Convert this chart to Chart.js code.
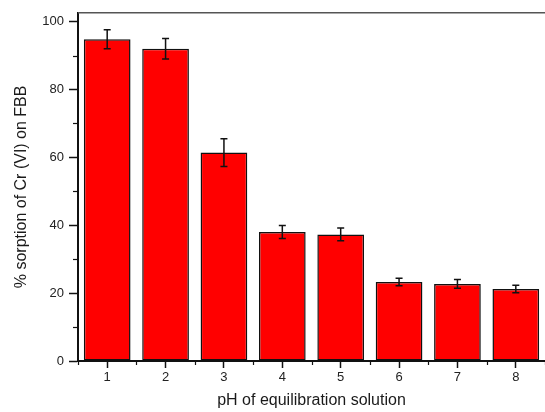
<!DOCTYPE html>
<html lang="en">
<head>
  <meta charset="UTF-8">
  <title>% sorption of Cr (VI) vs pH</title>
  <script src="https://cdn.jsdelivr.net/npm/chart.js"></script>
  <style>
    html, body { margin: 0; padding: 0; background: #fff; }
    .wrap { position: relative; width: 545px; height: 412px; }
  </style>
</head>
<body>
  <div class="wrap">
    <canvas id="sorptionChart"></canvas>
  </div>

  <script>
    // data
    const phLabels = ['1', '2', '3', '4', '5', '6', '7', '8'];
    const sorption = [94.8, 92.0, 61.4, 38.0, 37.3, 23.3, 22.7, 21.2];
    const sorptionErr = [2.8, 3.0, 4.1, 1.9, 1.9, 1.1, 1.3, 1.1];
    const yTicks = [0, 20, 40, 60, 80, 100];
    const yMinorTicks = [10, 30, 50, 70, 90];

    const FONT = "'Liberation Sans', Arial, sans-serif";

    // error bars, minor ticks and the top frame line
    const extrasPlugin = {
      id: 'extras',
      afterDatasetsDraw(chart) {
        const { ctx, scales: { y } } = chart;
        const meta = chart.getDatasetMeta(0);
        ctx.save();

        // error bars
        ctx.strokeStyle = '#111';
        ctx.lineWidth = 1.5;
        meta.data.forEach((bar, i) => {
          const yTop = y.getPixelForValue(sorption[i] + sorptionErr[i]);
          const yBot = y.getPixelForValue(sorption[i] - sorptionErr[i]);
          ctx.beginPath();
          ctx.moveTo(bar.x, yTop); ctx.lineTo(bar.x, yBot);
          ctx.moveTo(bar.x - 3.5, yTop); ctx.lineTo(bar.x + 3.5, yTop);
          ctx.moveTo(bar.x - 3.5, yBot); ctx.lineTo(bar.x + 3.5, yBot);
          ctx.stroke();
        });
        ctx.restore();
      },
      afterDraw(chart) {
        const { ctx, chartArea, scales: { x, y } } = chart;
        ctx.save();
        ctx.strokeStyle = '#111';
        ctx.lineWidth = 1.2;

        // minor y ticks
        yMinorTicks.forEach(v => {
          const py = Math.round(y.getPixelForValue(v)) + 0.5;
          ctx.beginPath();
          ctx.moveTo(chartArea.left - 5, py); ctx.lineTo(chartArea.left, py);
          ctx.stroke();
        });

        // minor x ticks at category boundaries
        const bounds = [x.left];
        for (let i = 0; i < phLabels.length - 1; i++) {
          bounds.push((x.getPixelForValue(i) + x.getPixelForValue(i + 1)) / 2);
        }
        bounds.push(x.right);
        bounds.forEach(px => {
          px = Math.round(px) + 0.5;
          ctx.beginPath();
          ctx.moveTo(px, chartArea.bottom); ctx.lineTo(px, chartArea.bottom + 4);
          ctx.stroke();
        });

        // top frame line
        ctx.strokeStyle = '#555';
        ctx.lineWidth = 1.6;
        ctx.beginPath();
        ctx.moveTo(chartArea.left, chartArea.top);
        ctx.lineTo(chartArea.right, chartArea.top);
        ctx.stroke();
        ctx.restore();
      }
    };

    new Chart(document.getElementById('sorptionChart'), {
      type: 'bar',
      data: {
        labels: phLabels,
        datasets: [{
          data: sorption,
          backgroundColor: '#ff0000',
          borderColor: '#111',
          borderWidth: 1.5,
          borderSkipped: false,
          categoryPercentage: 1,
          barPercentage: 0.8
        }]
      },
      options: {
        responsive: true,
        maintainAspectRatio: false,
        animation: false,
        layout: { padding: { top: 11, right: 0, left: 0, bottom: 0 } },
        plugins: { legend: { display: false }, tooltip: { enabled: false } },
        scales: {
          x: {
            type: 'category',
            offset: true,
            afterFit: s => { s.height = 51; },
            grid: { offset: false, drawOnChartArea: false, tickLength: 7, tickColor: '#111', tickWidth: 1.5 },
            border: { display: true, color: '#111', width: 2 },
            ticks: { color: '#222', padding: 2, font: { family: FONT, size: 13 } },
            title: {
              display: true,
              text: 'pH of equilibration solution',
              color: '#1a1a1a',
              font: { family: FONT, size: 16 },
              padding: { top: 0, bottom: 2 }
            }
          },
          y: {
            min: 0,
            max: 102.6,
            afterFit: s => { s.width = 78; },
            afterBuildTicks: s => { s.ticks = yTicks.map(v => ({ value: v })); },
            grid: { drawOnChartArea: false, tickLength: 9, tickColor: '#111', tickWidth: 1.5 },
            border: { display: true, color: '#111', width: 2 },
            ticks: { color: '#222', padding: 5, font: { family: FONT, size: 13 } },
            title: {
              display: true,
              text: '% sorption of Cr (VI) on FBB',
              color: '#1a1a1a',
              font: { family: FONT, size: 16 },
              padding: { top: 12, bottom: 0 }
            }
          }
        }
      },
      plugins: [extrasPlugin]
    });
  </script>
</body>
</html>
